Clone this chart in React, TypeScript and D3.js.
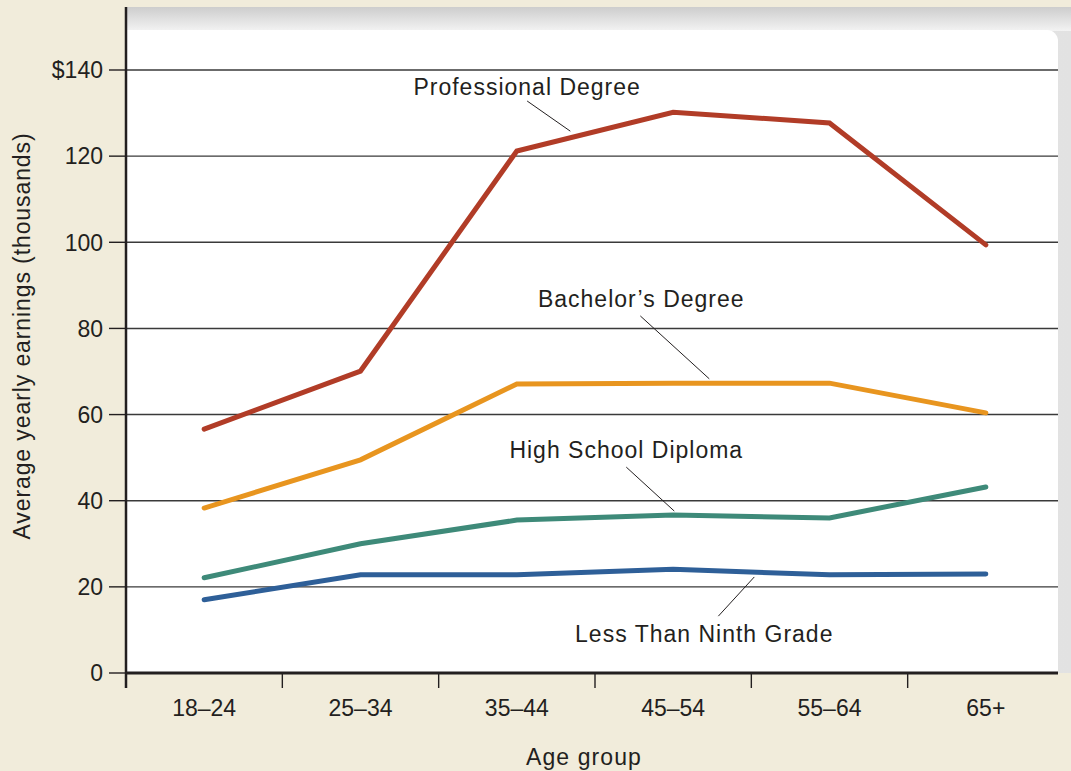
import { useEffect } from "react";
import * as d3 from "d3";

// ── Data ──────────────────────────────────────────────────────────────────────

const AGE_GROUPS = ["18–24", "25–34", "35–44", "45–54", "55–64", "65+"];
const Y_TICKS = [0, 20, 40, 60, 80, 100, 120, 140];

const PROFESSIONAL = [56.6, 70.1, 121.2, 130.2, 127.7, 99.4];
const BACHELORS = [38.3, 49.5, 67.1, 67.3, 67.3, 60.4];
const HIGH_SCHOOL = [22.1, 30.0, 35.5, 36.7, 36.0, 43.2];
const LESS_NINTH = [17.0, 22.8, 22.8, 24.1, 22.8, 23.0];

const SERIES = [
  { name: "Professional Degree", values: PROFESSIONAL, color: "#b13c27" },
  { name: "Bachelor’s Degree", values: BACHELORS, color: "#e8951f" },
  { name: "High School Diploma", values: HIGH_SCHOOL, color: "#3e8a79" },
  { name: "Less Than Ninth Grade", values: LESS_NINTH, color: "#2e5f98" },
];

// label position + leader line, in (category index, value) units
const LABELS = [
  { text: "Professional Degree", at: [2.066, 134.2], from: [2.066, 132.8], to: [2.342, 125.8] },
  { text: "Bachelor’s Degree", at: [2.796, 85.0], from: [2.79, 82.9], to: [3.231, 68.3] },
  { text: "High School Diploma", at: [2.7, 49.9], from: [2.7, 47.8], to: [3.007, 37.6] },
  { text: "Less Than Ninth Grade", at: [3.199, 7.2], from: [3.289, 13.2], to: [3.519, 22.3] },
];

// ── Layout ────────────────────────────────────────────────────────────────────

const W = 1071;
const H = 771;
const PLOT = { left: 126, right: 1064, top: 70, bottom: 673 };
const PANEL_TOP = 7;
const PANEL_RIGHT = 1058;
const WHITE_TOP = 30;
const CORNER = 11;
const FONT = "'Liberation Sans', Arial, sans-serif";

export default function App() {
  useEffect(() => {
    document.body.style.margin = "0";
  }, []);

  const x = d3.scaleBand<string>().domain(AGE_GROUPS).range([PLOT.left, PLOT.right]).padding(0);
  const bw = x.bandwidth();
  const xi = d3
    .scaleLinear()
    .domain([0, AGE_GROUPS.length - 1])
    .range([(x(AGE_GROUPS[0]) ?? 0) + bw / 2, (x(AGE_GROUPS[AGE_GROUPS.length - 1]) ?? 0) + bw / 2]);
  const y = d3.scaleLinear().domain([0, 140]).range([PLOT.bottom, PLOT.top]);

  const line = d3
    .line<number>()
    .x((_, i) => xi(i))
    .y((d) => y(d));

  // white area: only the top-right corner is rounded
  const panel = d3.path();
  panel.moveTo(PLOT.left, WHITE_TOP);
  panel.lineTo(PANEL_RIGHT - CORNER, WHITE_TOP);
  panel.arcTo(PANEL_RIGHT, WHITE_TOP, PANEL_RIGHT, WHITE_TOP + CORNER, CORNER);
  panel.lineTo(PANEL_RIGHT, PLOT.bottom);
  panel.lineTo(PLOT.left, PLOT.bottom);
  panel.closePath();

  return (
    <svg width={W} height={H} style={{ display: "block", background: "#f1ecdb" }}>
      <defs>
        <linearGradient id="topband" x1="0" y1="0" x2="0" y2="1">
          <stop offset="0%" stopColor="#cdcdcd" />
          <stop offset="100%" stopColor="#f3f3f3" />
        </linearGradient>
        <linearGradient id="rightband" x1="0" y1="0" x2="1" y2="0">
          <stop offset="0%" stopColor="#f4f4f4" />
          <stop offset="100%" stopColor="#e2e2e2" />
        </linearGradient>
      </defs>

      {/* Panel */}
      <rect x={PLOT.left} y={PANEL_TOP} width={W - PLOT.left} height={PLOT.bottom - PANEL_TOP} fill="url(#rightband)" />
      <rect x={PLOT.left} y={PANEL_TOP} width={W - PLOT.left} height={WHITE_TOP - PANEL_TOP + 1} fill="url(#topband)" />
      <path d={panel.toString()} fill="#ffffff" />

      {/* Grid lines */}
      {Y_TICKS.filter((t) => t > 0).map((t) => (
        <line key={t} x1={PLOT.left} x2={PANEL_RIGHT} y1={y(t)} y2={y(t)} stroke="#3a3a3a" strokeWidth={1.4} />
      ))}

      {/* Y axis */}
      <line x1={PLOT.left} x2={PLOT.left} y1={PANEL_TOP} y2={688} stroke="#231f20" strokeWidth={2.5} />
      {Y_TICKS.map((t) => (
        <g key={t}>
          <line x1={109} x2={PLOT.left} y1={y(t)} y2={y(t)} stroke="#231f20" strokeWidth={1.4} />
          <text x={103} y={y(t)} dy="0.36em" textAnchor="end" fontFamily={FONT} fontSize={23} fill="#231f20">
            {t === 140 ? `$${t}` : t}
          </text>
        </g>
      ))}

      {/* X axis */}
      <line x1={PLOT.left} x2={PANEL_RIGHT} y1={PLOT.bottom} y2={PLOT.bottom} stroke="#231f20" strokeWidth={3} />
      {AGE_GROUPS.map((a) => (
        <g key={a}>
          <line x1={x(a)} x2={x(a)} y1={PLOT.bottom} y2={688} stroke="#231f20" strokeWidth={1.4} />
          <text x={(x(a) ?? 0) + bw / 2} y={716} textAnchor="middle" fontFamily={FONT} fontSize={23} fill="#231f20">
            {a}
          </text>
        </g>
      ))}

      {/* Axis titles */}
      <text x={584} y={765} textAnchor="middle" fontFamily={FONT} fontSize={23} letterSpacing={1.1} fill="#231f20">
        Age group
      </text>
      <text
        transform={`translate(30,336) rotate(-90)`}
        textAnchor="middle"
        fontFamily={FONT}
        fontSize={23}
        letterSpacing={0.9}
        fill="#231f20"
      >
        Average yearly earnings (thousands)
      </text>

      {/* Lines */}
      {SERIES.map((s) => (
        <path
          key={s.name}
          d={line(s.values) ?? ""}
          fill="none"
          stroke={s.color}
          strokeWidth={5}
          strokeLinecap="round"
          strokeLinejoin="miter"
        />
      ))}

      {/* Labels + leaders */}
      {LABELS.map((l) => (
        <g key={l.text}>
          <line x1={xi(l.from[0])} y1={y(l.from[1])} x2={xi(l.to[0])} y2={y(l.to[1])} stroke="#231f20" strokeWidth={1} />
          <text x={xi(l.at[0])} y={y(l.at[1])} textAnchor="middle" fontFamily={FONT} fontSize={23} letterSpacing={1} fill="#231f20">
            {l.text}
          </text>
        </g>
      ))}
    </svg>
  );
}
